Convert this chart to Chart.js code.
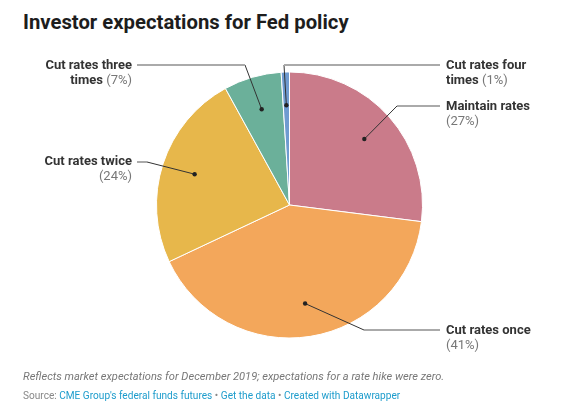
<!DOCTYPE html>
<html>
<head>
<meta charset="utf-8">
<script src="https://cdn.jsdelivr.net/npm/chart.js@4"></script>
<style>
    body { margin: 0; background: #fff; font-family: Roboto, sans-serif; }
    #wrap { position: relative; width: 568px; height: 419px; overflow: hidden; }
    #title { position: absolute; left: 23px; top: 10px; font-size: 20.3px; font-weight: 700; color: #1d1d1d; }
    #notes { position: absolute; left: 23px; top: 370px; font-size: 11.1px; font-style: italic; color: #777; }
    #source { position: absolute; left: 23px; top: 390px; font-size: 10.1px; color: #888; }
    #source span.link { color: #1d9ccc; }
    #chart { position: absolute; left: 0; top: 0; }
</style>
</head>
<body>
<div id="wrap">
    <div id="title">Investor expectations for Fed policy</div>
    <canvas id="chart" width="568" height="419"></canvas>
    <div id="notes">Reflects market expectations for December 2019; expectations for a rate hike were zero.</div>
    <div id="source">Source: <span class="link">CME Group's federal funds futures</span> • <span class="link">Get the data</span> • <span class="link">Created with Datawrapper</span></div>
</div>
<script>
// data
const labelLines = [
    ['Maintain rates'],
    ['Cut rates once'],
    ['Cut rates twice'],
    ['Cut rates three', 'times'],
    ['Cut rates four', 'times']
];
const values = [27, 41, 24, 7, 1];
const colors = ['#ca7b8a', '#f3a75b', '#e7b74b', '#6bb09a', '#6f9bd0'];

// where each label sits (elbow of leader line, end of gray line, text anchor)
const labelLayout = [
    { elbow: [397, 106], end: [440, 106], tx: 446, ty: 107, align: 'left' },
    { elbow: [364, 330], end: [440, 330], tx: 446, ty: 331, align: 'left' },
    { elbow: [147, 162], end: [137, 162], tx: 132, ty: 162, align: 'right' },
    { elbow: [245, 65], end: [137, 65], tx: 132, ty: 66, align: 'right' },
    { elbow: [284, 65], end: [440, 65], tx: 446, ty: 66, align: 'left' }
];

const labelPlugin = {
    id: 'pieLabels',
    afterDatasetsDraw(chart) {
        const ctx = chart.ctx;
        const arcs = chart.getDatasetMeta(0).data;
        ctx.save();
        arcs.forEach((arc, i) => {
            const p = arc.getProps(['x', 'y', 'startAngle', 'endAngle', 'outerRadius'], true);
            const mid = (p.startAngle + p.endAngle) / 2;
            const dx = p.x + Math.cos(mid) * p.outerRadius * 0.75;
            const dy = p.y + Math.sin(mid) * p.outerRadius * 0.75;
            const l = labelLayout[i];

            // dark leader segment
            ctx.strokeStyle = '#333';
            ctx.lineWidth = 1;
            ctx.beginPath();
            ctx.moveTo(dx, dy);
            ctx.lineTo(l.elbow[0], l.elbow[1]);
            ctx.stroke();
            // gray segment to the label
            ctx.strokeStyle = '#aaa';
            ctx.lineWidth = 2;
            ctx.beginPath();
            ctx.moveTo(l.elbow[0], l.elbow[1]);
            ctx.lineTo(l.end[0], l.end[1]);
            ctx.stroke();
            // dot
            ctx.fillStyle = '#222';
            ctx.beginPath();
            ctx.arc(dx, dy, 2.2, 0, Math.PI * 2);
            ctx.fill();

            // text
            ctx.textBaseline = 'middle';
            ctx.textAlign = l.align;
            const lines = labelLines[i];
            const pct = '(' + values[i] + '%)';
            const boldFont = '700 13px Roboto';
            const normFont = '400 13px Roboto';
            const lh = 15;
            lines.forEach((line, j) => {
                const y = l.ty + j * lh;
                const isLast = j === lines.length - 1;
                if (lines.length > 1 && isLast) {
                    // "times (x%)" on same line
                    ctx.font = boldFont;
                    const w1 = ctx.measureText(line + ' ').width;
                    ctx.font = normFont;
                    const w2 = ctx.measureText(pct).width;
                    let x0 = l.align === 'left' ? l.tx : l.tx - w1 - w2;
                    ctx.textAlign = 'left';
                    ctx.font = boldFont;
                    ctx.fillStyle = '#333';
                    ctx.fillText(line + ' ', x0, y);
                    ctx.font = normFont;
                    ctx.fillStyle = '#777';
                    ctx.fillText(pct, x0 + w1, y);
                    ctx.textAlign = l.align;
                } else {
                    ctx.font = boldFont;
                    ctx.fillStyle = '#333';
                    ctx.fillText(line, l.tx, y);
                }
            });
            if (lines.length === 1) {
                ctx.font = normFont;
                ctx.fillStyle = '#777';
                ctx.fillText(pct, l.tx, l.ty + lh);
            }
        });
        ctx.restore();
    }
};

new Chart(document.getElementById('chart'), {
    type: 'pie',
    data: {
        labels: labelLines.map(l => l.join(' ')),
        datasets: [{
            data: values,
            backgroundColor: colors,
            borderColor: '#fff',
            borderWidth: 1
        }]
    },
    options: {
        responsive: false,
        animation: false,
        layout: { padding: { top: 71, bottom: 80, left: 156, right: 145 } },
        plugins: {
            legend: { display: false },
            tooltip: { enabled: false }
        }
    },
    plugins: [labelPlugin]
});
</script>
</body>
</html>
